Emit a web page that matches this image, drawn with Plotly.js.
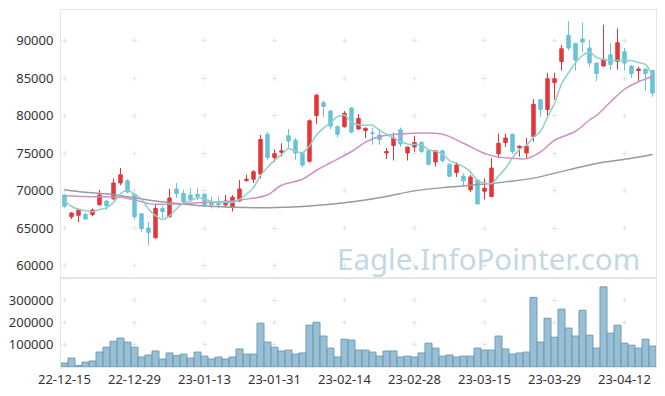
<!DOCTYPE html>
<html>
<head>
<meta charset="utf-8">
<script src="https://cdn.plot.ly/plotly-3.0.1.min.js"></script>
<style>html,body{margin:0;padding:0;background:#fff;}#chart{width:665px;height:396px;}</style>
</head>
<body>
<div id="chart"></div>
<script>
const dates = ["22-12-15","22-12-16","22-12-19","22-12-20","22-12-21","22-12-22","22-12-23","22-12-26","22-12-27","22-12-28",
"22-12-29","23-01-02","23-01-03","23-01-04","23-01-05","23-01-06","23-01-09","23-01-10","23-01-11","23-01-12",
"23-01-13","23-01-16","23-01-17","23-01-18","23-01-19","23-01-20","23-01-25","23-01-26","23-01-27","23-01-30",
"23-01-31","23-02-01","23-02-02","23-02-03","23-02-06","23-02-07","23-02-08","23-02-09","23-02-10","23-02-13",
"23-02-14","23-02-15","23-02-16","23-02-17","23-02-20","23-02-21","23-02-22","23-02-23","23-02-24","23-02-27",
"23-02-28","23-03-02","23-03-03","23-03-06","23-03-07","23-03-08","23-03-09","23-03-10","23-03-13","23-03-14",
"23-03-15","23-03-16","23-03-17","23-03-20","23-03-21","23-03-22","23-03-23","23-03-24","23-03-27","23-03-28",
"23-03-29","23-03-30","23-03-31","23-04-03","23-04-04","23-04-05","23-04-06","23-04-07","23-04-10","23-04-11",
"23-04-12","23-04-13","23-04-14","23-04-17","23-04-18"];

const openP  = [69400,66500,66700,66800,66800,68100,68600,68900,71000,71300,
69500,66900,65000,63700,67600,66500,70200,69600,69400,69500,
69500,68500,68300,68100,67800,68600,71300,71500,72200,77500,
74400,75100,77300,76700,75000,73900,80000,81700,80600,78500,
78500,81000,78200,78000,77700,77400,75000,76000,78100,75000,
75800,76400,75300,73800,75300,73500,72400,71900,70100,71400,
69900,69200,74900,76400,77500,75700,75000,77200,82100,80800,
84400,87200,90700,89600,90200,89000,87000,86600,88100,87200,
88500,86600,86000,86200,86000];
const highP  = [69500,67100,67600,67000,67600,70100,68700,71600,73000,71500,
69600,67000,65800,68100,67900,70200,71000,70100,70300,70300,
69600,69200,69200,69400,69400,71400,72100,72700,77400,77800,
75500,76300,78200,77000,75100,79500,82900,82000,80700,78700,
80600,81100,80200,78400,78400,78200,75700,77700,78400,75800,
77300,76600,75400,75400,75400,73600,73800,72300,72100,71500,
71600,74300,77600,77600,77600,76000,77000,82200,82200,85700,
85700,89400,92600,89700,92400,90100,87000,92100,89600,91600,
89000,86700,86500,86300,86000];
const lowP   = [67700,66200,65800,66100,66600,68000,67400,68700,70700,69600,
66100,64500,62700,63600,66300,66400,69000,68300,68500,68700,
67800,67600,67600,67800,67200,68500,71200,71000,71600,74100,
73800,74500,75600,74100,73100,73700,78900,79800,78200,77100,
78400,77600,78100,77000,76100,76100,74200,74000,75800,74000,
75200,75000,73300,73200,73700,71800,71800,70600,69800,68200,
68800,69100,74300,75800,74900,74500,74300,76500,79800,79600,
82100,86000,88700,86000,88400,86500,84600,86500,86100,86100,
86000,85000,84500,83300,82500];
const closeP = [67900,67000,67400,66200,67400,69400,68000,71000,72100,69800,
66500,64900,64400,67600,67200,69000,69600,68500,68800,69200,
68100,68100,68100,68600,69100,70200,71500,72500,76800,74400,
74900,75300,76600,75000,73400,79300,82700,81200,78600,77500,
80300,77800,79600,78300,77600,76800,75200,77000,76200,75800,
76400,75200,73500,75300,74000,71900,73400,71300,71800,68200,
70300,73000,76300,77000,75200,75900,75900,81500,80800,84900,
84900,88900,89000,87400,89800,87000,85600,87500,86800,89700,
87000,85600,86200,85600,83000];
const volume = [18000,40000,7000,22000,27000,67000,89000,116000,130000,112000,
89000,45000,54000,72000,36000,63000,51000,58000,40000,67000,
49000,36000,45000,36000,45000,81000,58000,58000,197000,112000,
89000,72000,76000,58000,63000,188000,201000,139000,85000,45000,
125000,121000,76000,76000,67000,49000,72000,72000,45000,49000,
45000,63000,107000,85000,49000,54000,45000,49000,49000,85000,
76000,76000,139000,81000,58000,63000,67000,313000,112000,219000,
134000,260000,175000,139000,255000,143000,85000,360000,152000,188000,
107000,98000,85000,125000,94000];

const ma5 = [68600,67900,67500,67300,67180,67480,67680,68400,69580,70060,
69480,68860,67540,66640,66120,66620,67560,68380,68620,69020,
68840,68540,68460,68420,68400,68820,69500,70380,72020,73080,
74020,74780,75600,75240,75040,75920,77400,78320,79040,79860,
80060,79080,78760,78700,78720,78020,77500,76980,76560,76200,
76120,76120,75420,75240,74880,73980,73620,73180,72480,71320,
71000,70920,71920,72960,74360,75480,76060,77100,77860,79800,
81600,84200,85700,87020,88000,88420,87760,87460,87340,87320,
87320,87320,87060,86820,85480];

const ma20Idx = [0,3,6,8,10,12,14,16,19,22,24,26,29,31,34,36,38,41,43,45,48,50,54,57,60,62,64,66,68,70,73,75,76,78,80,82,84];
const ma20    = [69300,69200,69150,69100,68750,68250,68150,68200,68350,68450,68600,68850,69400,70700,71500,72700,73700,75200,76450,77200,77550,77650,77500,76300,74950,74450,74300,74250,75150,76700,77900,79400,80000,81800,83500,84500,85200];

const ma60Idx = [0,3,6,8,13,17,19,21,24,29,34,38,42,46,50,55,60,63,67,72,76,81,84];
const ma60    = [70100,69750,69550,69300,68600,68200,68000,67900,67750,67700,67850,68150,68600,69200,69950,70450,70850,71150,71650,72750,73600,74300,74800];

const tickIdx = [0,10,20,30,40,50,60,70,80];
const tickLabels = tickIdx.map(i => dates[i]);
const priceTicks = [60000,65000,70000,75000,80000,85000,90000];
const volTicks = [100000,200000,300000];

const tickFont = {family: 'Noto Sans, DejaVu Sans, sans-serif', size: 13, color: '#333'};
const gridCol = '#e4e4e4';
const frameCol = '#e6e6e6';

const traces = [
  {
    type: 'bar', x: dates, y: volume, xaxis: 'x2', yaxis: 'y2',
    marker: {color: 'rgba(134,180,203,0.85)', line: {color: '#6f9db7', width: 1}},
    hoverinfo: 'skip'
  },
  {
    type: 'candlestick', x: dates, open: openP, high: highP, low: lowP, close: closeP,
    xaxis: 'x', yaxis: 'y',
    increasing: {line: {color: '#e6353a', width: 1}, fillcolor: '#e6353a'},
    decreasing: {line: {color: '#68c2d8', width: 1}, fillcolor: '#68c2d8'},
    whiskerwidth: 0, hoverinfo: 'skip'
  },
  {
    type: 'scatter', mode: 'lines', x: ma60Idx.map(i => dates[i]), y: ma60,
    line: {color: '#9a9a9a', width: 1.5, shape: 'spline'}, xaxis: 'x', yaxis: 'y', hoverinfo: 'skip'
  },
  {
    type: 'scatter', mode: 'lines', x: ma20Idx.map(i => dates[i]), y: ma20,
    line: {color: '#cc90c8', width: 1.5, shape: 'spline'}, xaxis: 'x', yaxis: 'y', hoverinfo: 'skip'
  },
  {
    type: 'scatter', mode: 'lines', x: dates, y: ma5,
    line: {color: '#8fcfc8', width: 1.5, shape: 'spline', smoothing: 0.6}, xaxis: 'x', yaxis: 'y', hoverinfo: 'skip'
  }
];

const commonX = {
  type: 'category', categoryorder: 'array', categoryarray: dates,
  range: [-0.5, dates.length - 0.5],
  tickmode: 'array', tickvals: tickLabels, ticktext: tickLabels,
  showgrid: true, gridcolor: gridCol, gridwidth: 1,
  showline: true, mirror: true, linecolor: frameCol, linewidth: 1,
  ticks: '', zeroline: false, tickfont: tickFont, fixedrange: true
};

const layout = {
  width: 665, height: 396,
  margin: {l: 61, r: 9, t: 10, b: 29},
  paper_bgcolor: '#ffffff', plot_bgcolor: '#ffffff',
  showlegend: false,
  bargap: 0,
  xaxis: Object.assign({}, commonX, {anchor: 'y', showticklabels: false, griddash: '0px,28px,5px,4.5px', rangeslider: {visible: false}}),
  xaxis2: Object.assign({}, commonX, {anchor: 'y2', showticklabels: true, griddash: '2.5px,17.25px,2.5px,0px', matches: 'x'}),
  yaxis: {
    domain: [0.2493, 1], range: [58333, 94067], anchor: 'x',
    tickmode: 'array', tickvals: priceTicks, ticktext: priceTicks.map(String),
    showgrid: true, gridcolor: gridCol, griddash: '0px,1px,5px,64px',
    showline: true, mirror: true, linecolor: frameCol, zeroline: false,
    ticks: 'outside', ticklen: 4, tickcolor: 'rgba(0,0,0,0)', tickfont: tickFont, fixedrange: true
  },
  yaxis2: {
    domain: [0, 0.2493], range: [0, 400000], anchor: 'x2',
    tickmode: 'array', tickvals: volTicks, ticktext: volTicks.map(String),
    showgrid: true, gridcolor: gridCol, griddash: '0px,1px,5px,64px',
    showline: true, mirror: true, linecolor: frameCol, zeroline: false,
    ticks: 'outside', ticklen: 4, tickcolor: 'rgba(0,0,0,0)', tickfont: tickFont, fixedrange: true
  },
  annotations: [{
    text: 'Eagle.InfoPointer.com', xref: 'paper', yref: 'paper',
    x: 0.719, y: 0.305, xanchor: 'center', yanchor: 'middle', showarrow: false,
    font: {family: 'Noto Sans, Open Sans, sans-serif', size: 29.5, color: '#c4d7e4'}
  }]
};

Plotly.newPlot('chart', traces, layout, {staticPlot: true, displayModeBar: false});
</script>
</body>
</html>
